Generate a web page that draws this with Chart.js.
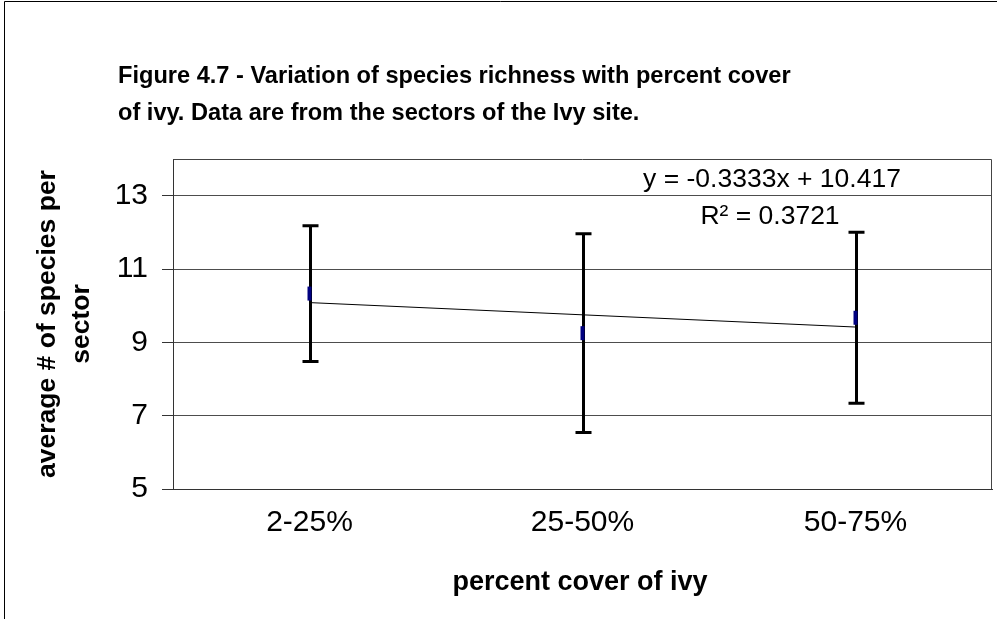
<!DOCTYPE html>
<html>
<head>
<meta charset="utf-8">
<script src="https://cdn.jsdelivr.net/npm/chart.js@4/dist/chart.umd.min.js"></script>
<style>
  html, body { margin: 0; padding: 0; background: #fff; }
  #wrap { width: 997px; height: 619px; }
</style>
</head>
<body>
<div id="wrap"><canvas id="myChart" width="997" height="619"></canvas></div>
<script>
// data
const categories = ['2-25%', '25-50%', '50-75%'];
const meanSpecies = [10.33, 9.25, 9.67];
const errorSpecies = [1.85, 2.71, 2.33];
const yTicks = [5, 7, 9, 11, 13];
// linear trend as printed on the chart
const trendSlope = -0.3333;
const trendIntercept = 10.417;

const titleLines = ['Figure 4.7 - Variation of species richness with percent cover',
  'of ivy. Data are from the sectors of the Ivy site.'];
const xTitle = 'percent cover of ivy';
const yTitle = ['average # of species per', 'sector'];
const eqLines = ['y = -0.3333x + 10.417', 'R\u00b2 = 0.3721'];

const FONT = '"Liberation Sans", Arial, sans-serif';

const trendValues = categories.map((c, i) => trendSlope * (i + 1) + trendIntercept);

const ctx = document.getElementById('myChart');

const extras = {
  id: 'extras',
  beforeDraw(chart) {
    const c = chart.ctx;
    c.save();
    c.fillStyle = '#fff';
    c.fillRect(0, 0, chart.width, chart.height);
    // outer chart frame (only left and top are visible)
    c.strokeStyle = '#000';
    c.lineWidth = 1;
    c.beginPath();
    c.moveTo(4.5, chart.height);
    c.lineTo(4.5, 1.5);
    c.lineTo(chart.width, 1.5);
    c.stroke();
    c.restore();
  },
  beforeDatasetsDraw(chart) {
    // error bars
    const c = chart.ctx;
    const xs = chart.scales.x, ys = chart.scales.y;
    c.save();
    c.strokeStyle = '#000';
    c.lineWidth = 3;
    meanSpecies.forEach((m, i) => {
      const x = Math.round(xs.getPixelForValue(i)) + 0.5;
      const top = ys.getPixelForValue(m + errorSpecies[i]);
      const bot = ys.getPixelForValue(m - errorSpecies[i]);
      c.beginPath();
      c.moveTo(x, top); c.lineTo(x, bot);
      c.moveTo(x - 8, top); c.lineTo(x + 8, top);
      c.moveTo(x - 8, bot); c.lineTo(x + 8, bot);
      c.stroke();
    });
    c.restore();
  },
  afterDraw(chart) {
    const c = chart.ctx;
    const a = chart.chartArea;
    c.save();
    // plot frame, top and right
    c.strokeStyle = '#444';
    c.lineWidth = 1;
    c.beginPath();
    c.moveTo(Math.round(a.left) + 0.5, Math.round(a.top) + 0.5);
    c.lineTo(Math.round(a.right) - 0.5, Math.round(a.top) + 0.5);
    c.lineTo(Math.round(a.right) - 0.5, Math.round(a.bottom));
    c.stroke();

    c.fillStyle = '#000';
    c.textBaseline = 'middle';
    // chart title
    c.font = 'bold 23.6px ' + FONT;
    c.textAlign = 'left';
    c.fillText(titleLines[0], 118, 76);
    c.fillText(titleLines[1], 118, 113);
    // x title
    c.font = 'bold 27px ' + FONT;
    c.textAlign = 'center';
    c.fillText(xTitle, 580, 583);
    // y title
    c.save();
    c.translate(0, 324);
    c.rotate(-Math.PI / 2);
    c.font = 'bold 26.5px ' + FONT;
    c.fillText(yTitle[0], 0, 48);
    c.fillText(yTitle[1], 0, 82);
    c.restore();
    // trend equation
    c.font = '26.5px ' + FONT;
    c.fillText(eqLines[0], 772, 180);
    c.fillText(eqLines[1], 770, 217);
    c.restore();
  }
};

const chart = new Chart(ctx, {
  type: 'line',
  data: {
    labels: categories,
    datasets: [
      {
        label: 'Trend',
        data: trendValues,
        borderColor: '#000',
        borderWidth: 1,
        pointRadius: 0,
        fill: false
      },
      {
        label: 'Mean species',
        data: meanSpecies,
        showLine: false,
        pointStyle: 'line',
        rotation: 90,
        pointRadius: 7,
        borderWidth: 4,
        borderColor: '#000080',
        backgroundColor: '#000080'
      }
    ]
  },
  options: {
    responsive: false,
    devicePixelRatio: 1,
    animation: false,
    events: [],
    layout: { autoPadding: false, padding: { top: 159, right: 5, left: 0, bottom: 0 } },
    plugins: {
      legend: { display: false },
      title: { display: false },
      tooltip: { enabled: false }
    },
    scales: {
      x: {
        type: 'category',
        offset: true,
        grid: { display: false, drawTicks: false },
        border: { display: true, color: '#333', width: 1 },
        ticks: { color: '#000', padding: 16, font: { family: FONT, size: 30 } },
        afterFit: (s) => { s.height = 130; }
      },
      y: {
        min: 5,
        max: 14,
        afterBuildTicks: (s) => { s.ticks = yTicks.map(v => ({ value: v })); },
        grid: { color: '#4d4d4d', lineWidth: 1, drawTicks: true, tickLength: 11, tickColor: '#333' },
        border: { display: true, color: '#333', width: 1 },
        ticks: { color: '#000', padding: 14, font: { family: FONT, size: 30 } },
        afterFit: (s) => { s.width = 173; }
      }
    }
  },
  plugins: [extras]
});
</script>
</body>
</html>
